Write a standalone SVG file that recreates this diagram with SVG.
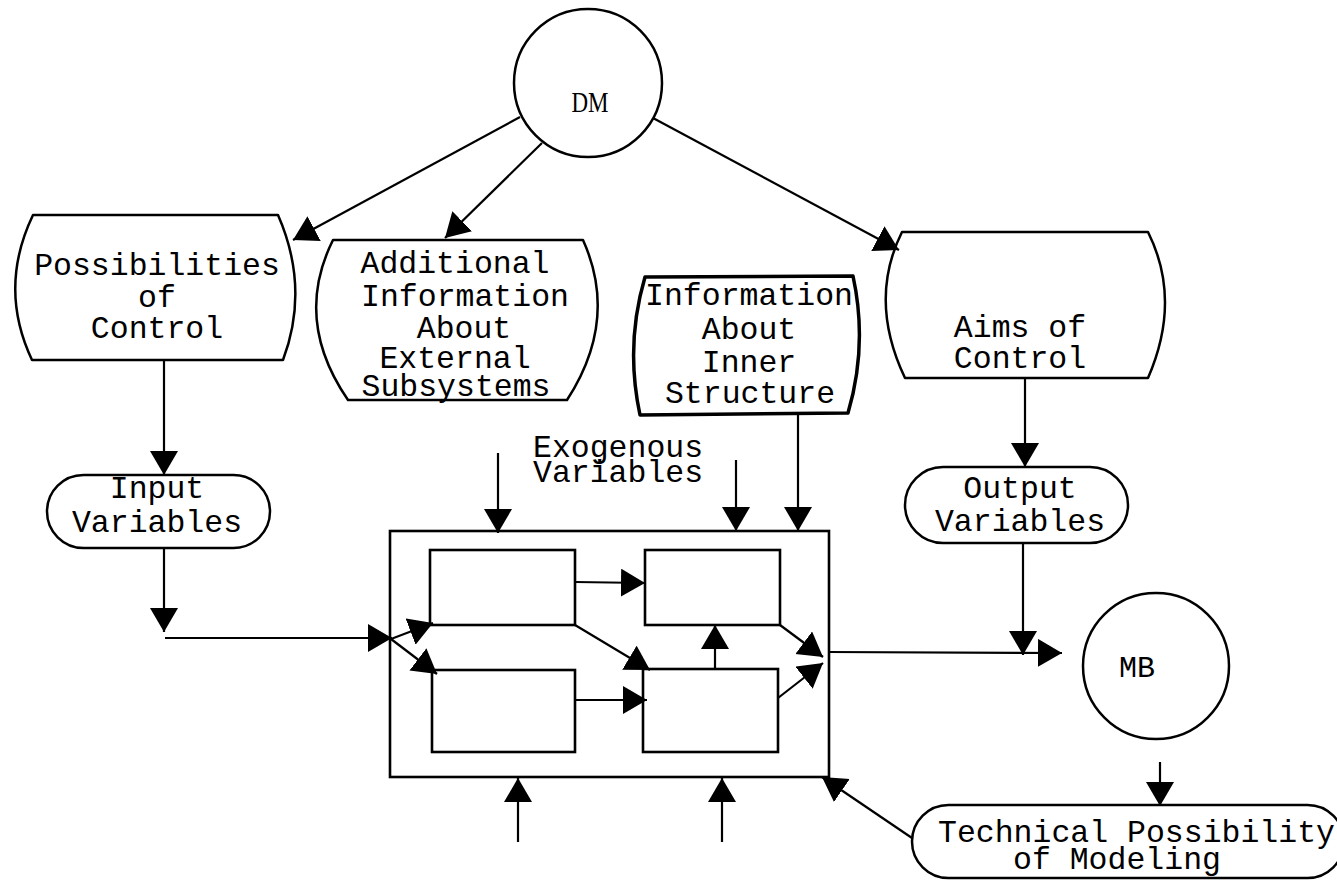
<svg xmlns="http://www.w3.org/2000/svg" width="1337" height="882" viewBox="0 0 1337 882">
<defs>
<style>
.box{fill:#fff;stroke:#000;stroke-width:2.5;stroke-linejoin:round}
.thick{stroke-width:3.5}
.in{fill:none;stroke:#000;stroke-width:2.6}
.ln{fill:none;stroke:#000;stroke-width:2.2;marker-end:url(#ah)}
.t{font-family:"Liberation Mono","DejaVu Sans Mono",monospace;font-size:31.5px;fill:#000}
.c{text-anchor:middle}
.s{font-family:"Liberation Serif","DejaVu Serif",serif;font-size:29px;fill:#000}
</style>
<marker id="ah" markerWidth="26" markerHeight="30" refX="24" refY="14" orient="auto" markerUnits="userSpaceOnUse">
<path d="M0,0 L24,14 L0,28 z" fill="#000"/>
</marker>
</defs>
<rect width="1337" height="882" fill="#fff"/>

<g id="dm">
<circle cx="588" cy="83" r="74" class="box"/>
<text x="590" y="112" class="s c" textLength="37" lengthAdjust="spacingAndGlyphs">DM</text>
</g>

<g id="possibilities">
<path class="box" d="M33,215 L278,215 Q310,288 283,360 L32,360 Q-2,288 33,215 Z"/>
<text class="t c" x="157" y="275">Possibilities</text>
<text class="t c" x="157" y="307">of</text>
<text class="t c" x="157" y="338">Control</text>
</g>

<g id="additional">
<path class="box" d="M333,240 L583,240 Q619,320 567,400 L348,400 Q293,320 333,240 Z"/>
<text class="t c" x="455" y="273">Additional</text>
<text class="t c" x="465" y="306">Information</text>
<text class="t c" x="464" y="338">About</text>
<text class="t c" x="455" y="368">External</text>
<text class="t c" x="456" y="396">Subsystems</text>
</g>

<g id="inner">
<path class="box thick" d="M645,277 L853,276 Q868,345 848,413 L640,415 Q625,345 645,277 Z"/>
<text class="t c" x="749" y="305">Information</text>
<text class="t c" x="749" y="339">About</text>
<text class="t c" x="749" y="372">Inner</text>
<text class="t c" x="750" y="403">Structure</text>
</g>

<g id="aims">
<path class="box" d="M902,232 L1148,232 Q1182,300 1148,378 L905,378 Q868,300 902,232 Z"/>
<text class="t c" x="1020" y="337">Aims of</text>
<text class="t c" x="1020" y="368">Control</text>
</g>

<g id="input">
<rect class="box" x="47" y="475" width="223" height="73" rx="36.5"/>
<text class="t c" x="157" y="498">Input</text>
<text class="t c" x="157" y="532">Variables</text>
</g>

<g id="output">
<rect class="box" x="905" y="467" width="223" height="76" rx="38"/>
<text class="t c" x="1020" y="498">Output</text>
<text class="t c" x="1020" y="531">Variables</text>
</g>

<g id="exogenous">
<text class="t" x="533" y="457">Exogenous</text>
<text class="t" x="533" y="482">Variables</text>
</g>

<g id="system">
<rect class="in" x="390" y="531" width="439" height="246"/>
<rect class="in" x="430" y="550" width="145" height="75"/>
<rect class="in" x="645" y="550" width="135" height="75"/>
<rect class="in" x="432" y="670" width="143" height="82"/>
<rect class="in" x="643" y="669" width="135" height="83"/>
</g>

<g id="mb">
<circle cx="1156" cy="666" r="73" class="box"/>
<text class="t" x="1119" y="677" style="font-size:30px">MB</text>
</g>

<g id="technical">
<rect class="box" x="912" y="805" width="432" height="73" rx="36.5"/>
<text class="t" x="938" y="842">Technical Possibility</text>
<text class="t" x="1013" y="869">of Modeling</text>
</g>

<g id="connectors">
<line class="ln" x1="520" y1="117" x2="293" y2="240"/>
<line class="ln" x1="542" y1="143" x2="445" y2="238"/>
<line class="ln" x1="653" y1="118" x2="899" y2="250"/>
<line class="ln" x1="164" y1="360" x2="164" y2="475"/>
<line class="ln" x1="164" y1="548" x2="164" y2="632"/>
<line class="ln" x1="165" y1="638" x2="392" y2="638"/>
<line class="ln" x1="1025" y1="378" x2="1025" y2="467"/>
<line class="ln" x1="498" y1="453" x2="498" y2="533"/>
<line class="ln" x1="736" y1="460" x2="736" y2="531"/>
<line class="ln" x1="798" y1="415" x2="798" y2="531"/>
<line class="ln" x1="391" y1="639" x2="433" y2="623"/>
<line class="ln" x1="391" y1="639" x2="437" y2="674"/>
<line class="ln" x1="575" y1="582" x2="645" y2="583"/>
<line class="ln" x1="575" y1="625" x2="650" y2="670"/>
<line class="ln" x1="575" y1="700" x2="647" y2="700"/>
<line class="ln" x1="715" y1="669" x2="715" y2="625"/>
<line class="ln" x1="780" y1="625" x2="823" y2="657"/>
<line class="ln" x1="778" y1="698" x2="823" y2="663"/>
<line class="ln" x1="828" y1="652" x2="1062" y2="653"/>
<line class="ln" x1="1023" y1="543" x2="1023" y2="655"/>
<line class="ln" x1="518" y1="842" x2="518" y2="778"/>
<line class="ln" x1="722" y1="842" x2="722" y2="778"/>
<line class="ln" x1="1160" y1="762" x2="1160" y2="806"/>
<line class="ln" x1="912" y1="838" x2="822" y2="777"/>
</g>
</svg>
